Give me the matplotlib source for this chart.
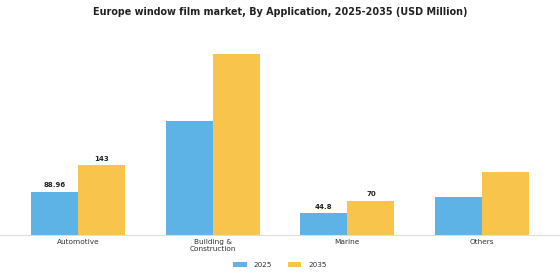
import matplotlib
matplotlib.use("Agg")
import matplotlib.pyplot as plt
import numpy as np

categories = ["Automotive", "Building &\nConstruction", "Marine", "Others"]
years = ["2025", "2035"]
values_2025 = [88.96, 233, 44.8, 77]
values_2035 = [143, 370, 70, 130]
labels_2025 = ["88.96", None, "44.8", None]
labels_2035 = ["143", None, "70", None]

colors = ["#5DB3E6", "#F8C44B"]

fig = plt.figure(figsize=(5.6, 2.8), dpi=100)
ax = fig.add_axes([0.0, 0.1607, 1.0, 0.697])

x = np.arange(len(categories))
w = 0.35
b1 = ax.bar(x - w/2, values_2025, w, color=colors[0], label=years[0])
b2 = ax.bar(x + w/2, values_2035, w, color=colors[1], label=years[1])

for bars, labs in ((b1, labels_2025), (b2, labels_2035)):
    for rect, lab in zip(bars, labs):
        if lab:
            ax.annotate(lab, (rect.get_x() + rect.get_width()/2, rect.get_height()),
                        xytext=(0, 2.5), textcoords="offset points",
                        ha="center", va="bottom", fontsize=5, fontweight="bold",
                        color="#222222")

ax.set_xlim(-0.58, 3.58)
ax.set_ylim(0, 400)
for s in ["top", "right", "left"]:
    ax.spines[s].set_visible(False)
ax.spines["bottom"].set_color("#dddddd")
ax.spines["bottom"].set_linewidth(0.8)
ax.set_yticks([])
ax.set_xticks(x)
ax.set_xticklabels(categories, fontsize=5.3, color="#333333", linespacing=1.25)
ax.tick_params(axis="x", length=0, pad=3)

fig.suptitle("Europe window film market, By Application, 2025-2035 (USD Million)",
             x=0.5, y=0.975, fontsize=6.9, fontweight="bold", color="#222222")

fig.legend(handles=[b1, b2], labels=years, loc="center", bbox_to_anchor=(0.5, 0.054),
           ncol=2, frameon=False, fontsize=5.2, handlelength=1.85, handleheight=0.7,
           handletextpad=1.0, columnspacing=2.1, labelcolor="#333333")

fig.savefig("out.png", dpi=100)
